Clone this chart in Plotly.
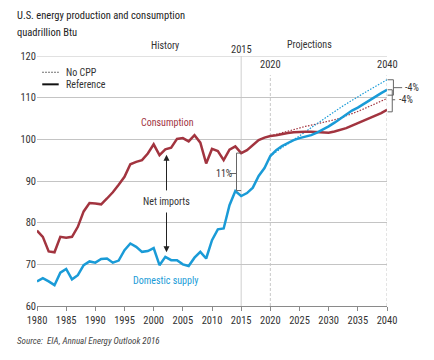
import plotly.graph_objects as go

# ---------------- data ----------------
years_hist = list(range(1980, 2016))
cons_hist = [78.1, 76.6, 73.1, 72.9, 76.6, 76.4, 76.6, 79.0, 82.7, 84.7,
             84.6, 84.4, 85.8, 87.3, 89.1, 91.0, 94.0, 94.6, 95.0, 96.6,
             98.8, 96.2, 97.6, 98.0, 100.1, 100.3, 99.5, 101.0, 99.2, 94.2,
             97.7, 97.2, 95.0, 97.5, 98.3, 96.7]
prod_hist = [65.9, 66.7, 65.9, 65.0, 68.0, 68.9, 66.4, 67.4, 69.8, 70.7,
             70.4, 71.3, 71.4, 70.4, 70.9, 73.4, 75.0, 74.2, 73.0, 73.2,
             73.9, 69.8, 71.8, 71.0, 71.0, 70.0, 69.6, 71.6, 73.0, 71.4,
             75.8, 78.4, 78.6, 84.2, 87.6, 86.4]

years_proj = list(range(2015, 2041))
cons_ref = [96.7, 97.4, 98.6, 99.8, 100.4, 100.8, 101.0, 101.3, 101.5, 101.7,
            101.8, 101.8, 101.8, 101.7, 101.6, 101.6, 101.9, 102.3, 102.7, 103.3,
            103.9, 104.4, 105.0, 105.6, 106.3, 107.1]
prod_ref = [86.4, 87.1, 88.4, 91.2, 93.1, 96.0, 97.4, 98.4, 99.2, 99.8,
            100.3, 100.6, 101.0, 101.6, 102.3, 103.1, 104.0, 105.0, 106.0, 106.9,
            107.6, 108.5, 109.4, 110.4, 111.1, 111.9]

years_nocpp = list(range(2020, 2041))
cons_nocpp = [100.8, 101.2, 101.6, 102.0, 102.4, 102.8, 103.1, 103.4, 103.7, 104.0,
              104.3, 104.7, 105.1, 105.6, 106.1, 106.7, 107.3, 107.9, 108.5, 109.1,
              109.8]
prod_nocpp = [96.0, 97.1, 98.0, 98.9, 99.8, 100.8, 101.8, 102.8, 103.8, 104.7,
              105.7, 106.7, 107.6, 108.5, 109.4, 110.3, 111.1, 111.9, 112.7, 113.5,
              114.3]

x_ticks = list(range(1980, 2041, 5))
y_ticks = [60, 70, 80, 90, 100, 110, 120]

RED = "#a2343f"
BLUE = "#1a9bd7"
GRID = "#c4c4c4"
TXT = "#333333"
FONT = "Liberation Sans Narrow, Arial Narrow, Roboto Condensed, Liberation Sans, sans-serif"
FS = 10

X0, X1 = 1980, 2040
Y0, Y1 = 60, 120


def px(year):
    return (year - X0) / (X1 - X0)


def py(val):
    return (val - Y0) / (Y1 - Y0)


fig = go.Figure()
fig.add_trace(go.Scatter(x=years_nocpp, y=cons_nocpp, mode="lines",
                         line=dict(color=RED, width=1.2, dash="1.5px,1.5px"), showlegend=False))
fig.add_trace(go.Scatter(x=years_nocpp, y=prod_nocpp, mode="lines",
                         line=dict(color=BLUE, width=1.2, dash="1.5px,1.5px"), showlegend=False))
fig.add_trace(go.Scatter(x=years_hist + years_proj[1:], y=cons_hist + cons_ref[1:], mode="lines",
                         line=dict(color=RED, width=2.5), showlegend=False))
fig.add_trace(go.Scatter(x=years_hist + years_proj[1:], y=prod_hist + prod_ref[1:], mode="lines",
                         line=dict(color=BLUE, width=2.5), showlegend=False))

shapes = []
# top gridline (range boundary)
shapes.append(dict(type="line", xref="x", yref="y", x0=X0, x1=X1, y0=Y1, y1=Y1,
                   line=dict(color=GRID, width=1), layer="below"))
# 2015 solid divider
shapes.append(dict(type="line", xref="x", yref="y", x0=2015, x1=2015, y0=Y0, y1=Y1,
                   line=dict(color="#cfcfcf", width=1), layer="below"))
# 2020 and 2040 dashed
for yr in (2020, 2040):
    shapes.append(dict(type="line", xref="x", yref="y", x0=yr, x1=yr, y0=Y0, y1=115.4,
                       line=dict(color="#c8c8c8", width=1, dash="3px,2px"), layer="below"))

# legend samples (paper coords)
shapes.append(dict(type="line", xref="paper", yref="paper", x0=0.015, x1=0.062,
                   y0=py(116.1), y1=py(116.1), line=dict(color="#444", width=1, dash="1.5px,1.5px")))
shapes.append(dict(type="line", xref="paper", yref="paper", x0=0.015, x1=0.062,
                   y0=py(113.2), y1=py(113.2), line=dict(color="#111", width=2)))


def bracket(xv, xh, ytop, ybot, xtick, ymid):
    p = (f"M {px(xh)} {py(ytop)} L {px(xv)} {py(ytop)} L {px(xv)} {py(ybot)} L {px(xh)} {py(ybot)} "
         f"M {px(xv)} {py(ymid)} L {px(xtick)} {py(ymid)}")
    return dict(type="path", xref="paper", yref="paper", path=p,
                line=dict(color="#666", width=1))


# 11% bracket at 2014
shapes.append(bracket(2014.2, 2015.0, cons_hist[-1], prod_hist[-1] + 1.3, 2013.1, 91.8))
# -4% brackets at 2040
shapes.append(bracket(2041.1, 2040.1, prod_nocpp[-1], 110.6, 2042.6, 112.4))
shapes.append(bracket(2040.9, 2040.1, prod_ref[-1], 106.6, 2041.4, 109.5))

ann = []


def txt(x, y, s, size=FS, color=TXT, xanchor="center", **kw):
    # x, y given in data units; placed in paper coords so they may sit outside the plot
    ann.append(dict(x=px(x), y=py(y), xref="paper", yref="paper", text=s, showarrow=False,
                    xanchor=xanchor, yanchor="middle",
                    font=dict(family=FONT, size=size, color=color), **kw))


txt(1976.28, 129.8, "U.S. energy production and consumption", size=10.5, color="#222",
    xanchor="left")
txt(1976.28, 125.7, "quadrillion Btu", size=10.5, color="#222", xanchor="left")
txt(2001.9, 122.6, "History")
txt(2015.0, 121.6, "2015", size=10.5)
txt(2026.8, 122.8, "Projections")
txt(2020.0, 118.0, "2020", size=10.5)
txt(2040.0, 118.0, "2040", size=10.5)
txt(1984.7, 116.1, "No CPP", xanchor="left")
txt(1984.7, 113.2, "Reference", xanchor="left")
txt(2002.4, 104.1, "Consumption", color=RED)
txt(2002.1, 66.1, "Domestic supply", color=BLUE)
txt(2012.0, 91.8, "11%")
txt(2042.8, 112.5, "-4%", xanchor="left")
txt(2041.7, 109.5, "-4%", xanchor="left")
txt(1976.28, 51.5, "<i>Source:  EIA, Annual Energy Outlook 2016</i>", size=9, color="#444",
    xanchor="left")

# Net imports double arrow
ann.append(dict(x=2002.2, y=72.9, ax=2002.2, ay=85.1, axref="x", ayref="y", xref="x", yref="y",
                text="", showarrow=True, arrowhead=2, arrowsize=1.2, arrowwidth=1,
                arrowcolor="#222"))
ann.append(dict(x=2002.2, y=96.3, ax=2002.2, ay=85.1, axref="x", ayref="y", xref="x", yref="y",
                text="Net imports", showarrow=True, arrowhead=2, arrowsize=1.2, arrowwidth=1,
                arrowcolor="#222", bgcolor="white", borderpad=5,
                font=dict(family=FONT, size=FS, color=TXT)))

# the page body adds an 8px offset, so the figure is sized to fit the window
fig.update_layout(
    width=426, height=352,
    margin=dict(l=28.7, r=47.3, t=47.7, b=54.3),
    paper_bgcolor="white", plot_bgcolor="white",
    font=dict(family=FONT, size=FS, color=TXT),
    shapes=shapes, annotations=ann,
    xaxis=dict(range=[X0, X1], tickvals=x_ticks, ticktext=[str(v) for v in x_ticks],
               showgrid=False, showline=True, linecolor="#8a8a8a", linewidth=1,
               ticks="outside", ticklen=4, tickcolor="#8a8a8a",
               tickfont=dict(family=FONT, size=10.5, color=TXT), zeroline=False),
    yaxis=dict(range=[Y0, Y1], tickvals=y_ticks, ticktext=[str(v) for v in y_ticks],
               showgrid=True, gridcolor=GRID, gridwidth=1, showline=False, zeroline=False,
               ticks="", tickfont=dict(family=FONT, size=10.5, color=TXT)),
)

fig.write_html("out.html")
